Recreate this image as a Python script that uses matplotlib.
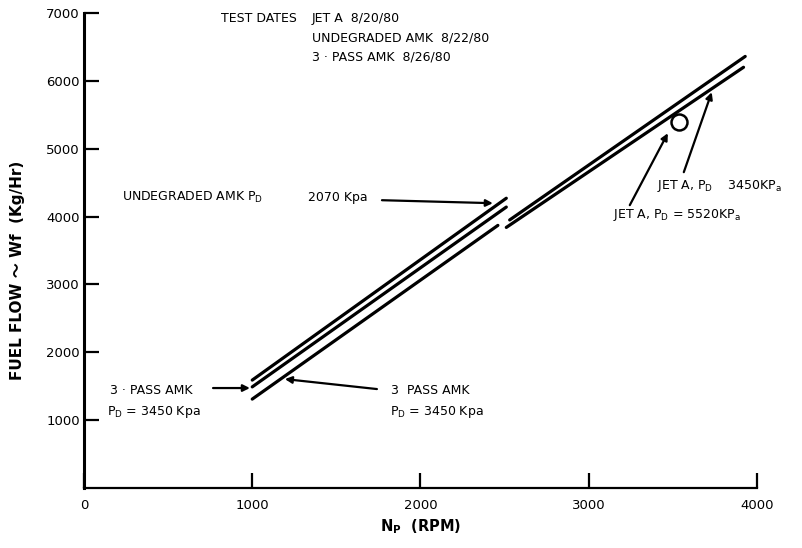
import numpy as np
import matplotlib
matplotlib.use('Agg')
import matplotlib.pyplot as plt

plt.rcParams['font.family'] = ['DejaVu Sans', 'Noto Sans CJK JP']
plt.rcParams['mathtext.fontset'] = 'custom'
plt.rcParams['mathtext.rm'] = 'DejaVu Sans'
plt.rcParams['mathtext.bf'] = 'DejaVu Sans:bold'

# curves (N_P in RPM, Wf in Kg/Hr)
rpm_undeg = [1000, 2510]
wf_undeg = [1590, 4270]
rpm_3pass_a = [1000, 2510]
wf_3pass_a = [1490, 4140]
rpm_3pass_b = [1000, 2460]
wf_3pass_b = [1310, 3870]
rpm_jet_5520 = [2530, 3930]
wf_jet_5520 = [3950, 6360]
rpm_jet_3450 = [2510, 3920]
wf_jet_3450 = [3840, 6200]
rpm_point = [3535]
wf_point = [5390]

xticks = [0, 1000, 2000, 3000, 4000]
yticks = [1000, 2000, 3000, 4000, 5000, 6000, 7000]

fig = plt.figure(figsize=(8.03, 5.48), dpi=100)
ax = fig.add_axes([0.1046, 0.1095, 0.8381, 0.8668])

for x, y in [(rpm_undeg, wf_undeg), (rpm_3pass_a, wf_3pass_a),
             (rpm_3pass_b, wf_3pass_b), (rpm_jet_5520, wf_jet_5520),
             (rpm_jet_3450, wf_jet_3450)]:
    ax.plot(x, y, color='black', lw=2.3, solid_capstyle='round')
ax.plot(rpm_point, wf_point, 'o', mfc='white', mec='black', ms=11.5, mew=1.8)

ax.set_xlim(0, 4000)
ax.set_ylim(0, 7000)
ax.set_xticks(xticks)
ax.set_yticks(yticks)
ax.tick_params(direction='in', length=11, width=1.6, labelsize=9.5, pad=8)
ax.tick_params(axis='y', pad=3)
for s in ['top', 'right']:
    ax.spines[s].set_visible(False)
ax.spines['left'].set_linewidth(2.2)
ax.spines['bottom'].set_linewidth(1.6)

ax.set_ylabel('FUEL FLOW \u301c Wf  (Kg/Hr)', fontsize=11, fontweight='bold')
ax.yaxis.set_label_coords(-0.088, 0.459)
ax.set_xlabel(r'N$_\mathbf{P}$  (RPM)', fontsize=10.5, fontweight='bold', labelpad=4)

fs = 9
# test dates block
ax.text(1265, 6922, 'TEST DATES', fontsize=fs, ha='right', va='center')
ax.text(1355, 6922, 'JET A  8/20/80', fontsize=fs, va='center')
ax.text(1355, 6627, 'UNDEGRADED AMK  8/22/80', fontsize=fs, va='center')
ax.text(1355, 6347, '3 · PASS AMK  8/26/80', fontsize=fs, va='center')

arrow = dict(arrowstyle='-|>', color='black', lw=1.6, mutation_scale=10, shrinkA=0, shrinkB=0)

ax.text(226, 4286, r'UNDEGRADED AMK P$_\mathregular{D}$', fontsize=fs, va='center')
ax.text(1331, 4286, '2070 Kpa', fontsize=fs, va='center')
ax.annotate('', xy=(2430, 4197), xytext=(1771, 4241), arrowprops=arrow)

ax.text(155, 1430, '3 · PASS AMK', fontsize=fs, va='center')
ax.text(137, 1120, r'P$_\mathregular{D}$ = 3450 Kpa', fontsize=fs, va='center')
ax.annotate('', xy=(986, 1473), xytext=(767, 1473), arrowprops=arrow)

ax.text(1824, 1430, '3  PASS AMK', fontsize=fs, va='center')
ax.text(1818, 1120, r'P$_\mathregular{D}$ = 3450 Kpa', fontsize=fs, va='center')
ax.annotate('', xy=(1194, 1605), xytext=(1741, 1458), arrowprops=arrow)

ax.text(3405, 4448, r'JET A, P$_\mathregular{D}$    3450KP$_\mathregular{a}$', fontsize=fs, va='center')
ax.annotate('', xy=(3731, 5832), xytext=(3565, 4654), arrowprops=arrow)
ax.text(3143, 4021, r'JET A, P$_\mathregular{D}$ = 5520KP$_\mathregular{a}$', fontsize=fs, va='center')
ax.annotate('', xy=(3470, 5228), xytext=(3244, 4168), arrowprops=arrow)

fig.savefig('out.png', dpi=100)
